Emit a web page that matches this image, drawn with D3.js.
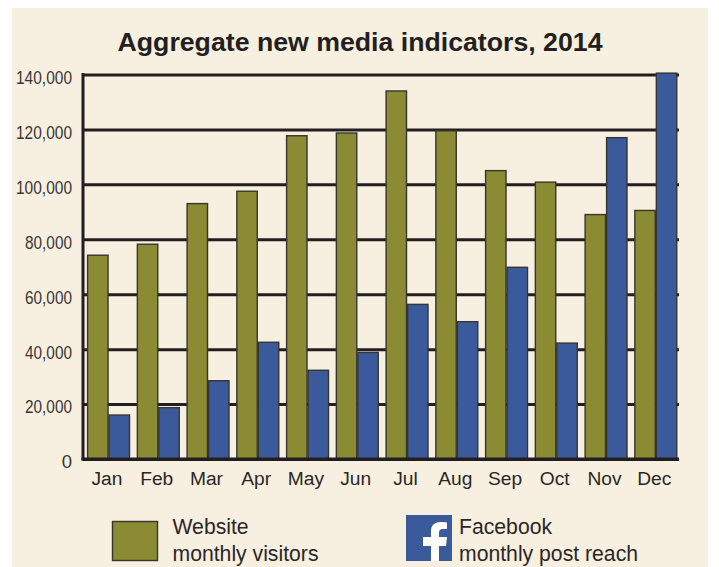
<!DOCTYPE html>
<html><head><meta charset="utf-8">
<style>html,body{margin:0;padding:0;background:#fff}svg{display:block}text{font-family:"Liberation Sans",Arial,sans-serif;fill:#2b2627}</style>
<script src="https://cdn.jsdelivr.net/npm/d3@7"></script></head><body>
<script>
const months=["Jan","Feb","Mar","Apr","May","Jun","Jul","Aug","Sep","Oct","Nov","Dec"];
const websiteVisitors=[74200,78200,93000,97500,117700,118700,134000,119500,105000,100800,89000,90500];
const facebookReach=[16000,18700,28500,42500,32300,38800,56300,50000,69800,42200,117000,140500];
const yTicks=[0,20000,40000,60000,80000,100000,120000,140000];
const titleText="Aggregate new media indicators, 2014";
const legendWebsite=["Website","monthly visitors"];
const legendFacebook=["Facebook","monthly post reach"];

const W=719,H=567,ink="#231f20",olive="#8b8b33",blue="#3b5a9b";
const svg=d3.select("body").append("svg").attr("width",W).attr("height",H);
svg.append("rect").attr("x",12).attr("y",8).attr("width",696).attr("height",559).attr("fill","#f7efdf");
svg.append("text").text(titleText).attr("x",360).attr("y",50.7).attr("text-anchor","middle")
  .attr("font-size",26.7).attr("font-weight","bold").style("fill","#231f20");

const y=d3.scaleLinear().domain([0,140000]).range([459,74.5]);
const x0=d3.scaleBand().domain(months).range([83.6,680.6]).paddingInner(0);
const x1=d3.scaleBand().domain(["w","f"]).range([4,45.9]).paddingInner(0.05);
const axisRight=679,axisLeft=83;

const grid=svg.append("g").attr("transform",`translate(${axisLeft},0)`)
  .call(d3.axisLeft(y).tickValues(yTicks).tickSize(-(axisRight-axisLeft)).tickSizeOuter(0).tickPadding(11).tickFormat(d3.format(",")));
grid.select(".domain").remove();
grid.selectAll("line").attr("stroke",ink).attr("stroke-width",3);
grid.selectAll("text").attr("font-size",18.5).attr("dy","0.32em").attr("y",3).attr("textLength",d=>d===0?null:(d>=100000?56:47)).attr("lengthAdjust","spacingAndGlyphs").style("fill","#3a3536");

const groups=svg.append("g").selectAll("g").data(months).join("g").attr("transform",d=>`translate(${x0(d)},0)`);
function bars(values,key,fill){
  groups.append("rect").attr("x",x1(key)).attr("width",x1.bandwidth())
    .attr("y",(d,i)=>y(values[i])).attr("height",(d,i)=>y(0)-y(values[i]))
    .attr("fill",fill).attr("stroke","#37352f").attr("stroke-width",1.4);
}
bars(websiteVisitors,"w",olive);
bars(facebookReach,"f",blue);

svg.append("line").attr("x1",axisLeft).attr("x2",axisLeft).attr("y1",73).attr("y2",460.5).attr("stroke",ink).attr("stroke-width",3);
svg.append("line").attr("x1",axisLeft-1.5).attr("x2",axisRight).attr("y1",y(0)).attr("y2",y(0)).attr("stroke",ink).attr("stroke-width",3);

const xa=svg.append("g").attr("transform",`translate(-1.5,${y(0)})`).call(d3.axisBottom(x0).tickSize(0).tickPadding(12.5));
xa.select(".domain").remove();
xa.selectAll("text").attr("font-size",19.2);

svg.append("rect").attr("x",112.5).attr("y",521.5).attr("width",45).attr("height",39).attr("fill",olive).attr("stroke","#37352f").attr("stroke-width",1.4);
legendWebsite.forEach((t,i)=>svg.append("text").text(t).attr("x",172.5).attr("y",534+i*26.5).attr("font-size",21.2));
svg.append("rect").attr("x",406).attr("y",515).attr("width",46).attr("height",46).attr("fill",blue);
svg.append("path").attr("fill","#fff").attr("transform","translate(406,515)")
  .attr("d","M25 46V31H17V22H25V16C25 10 29 7 35 7C38 7 40 7.3 41 7.5V14H37C34 14 33 15.5 33 18V22H41L40 31H33V46Z");
legendFacebook.forEach((t,i)=>svg.append("text").text(t).attr("x",459).attr("y",534+i*26.5).attr("font-size",21.2));
</script></body></html>
